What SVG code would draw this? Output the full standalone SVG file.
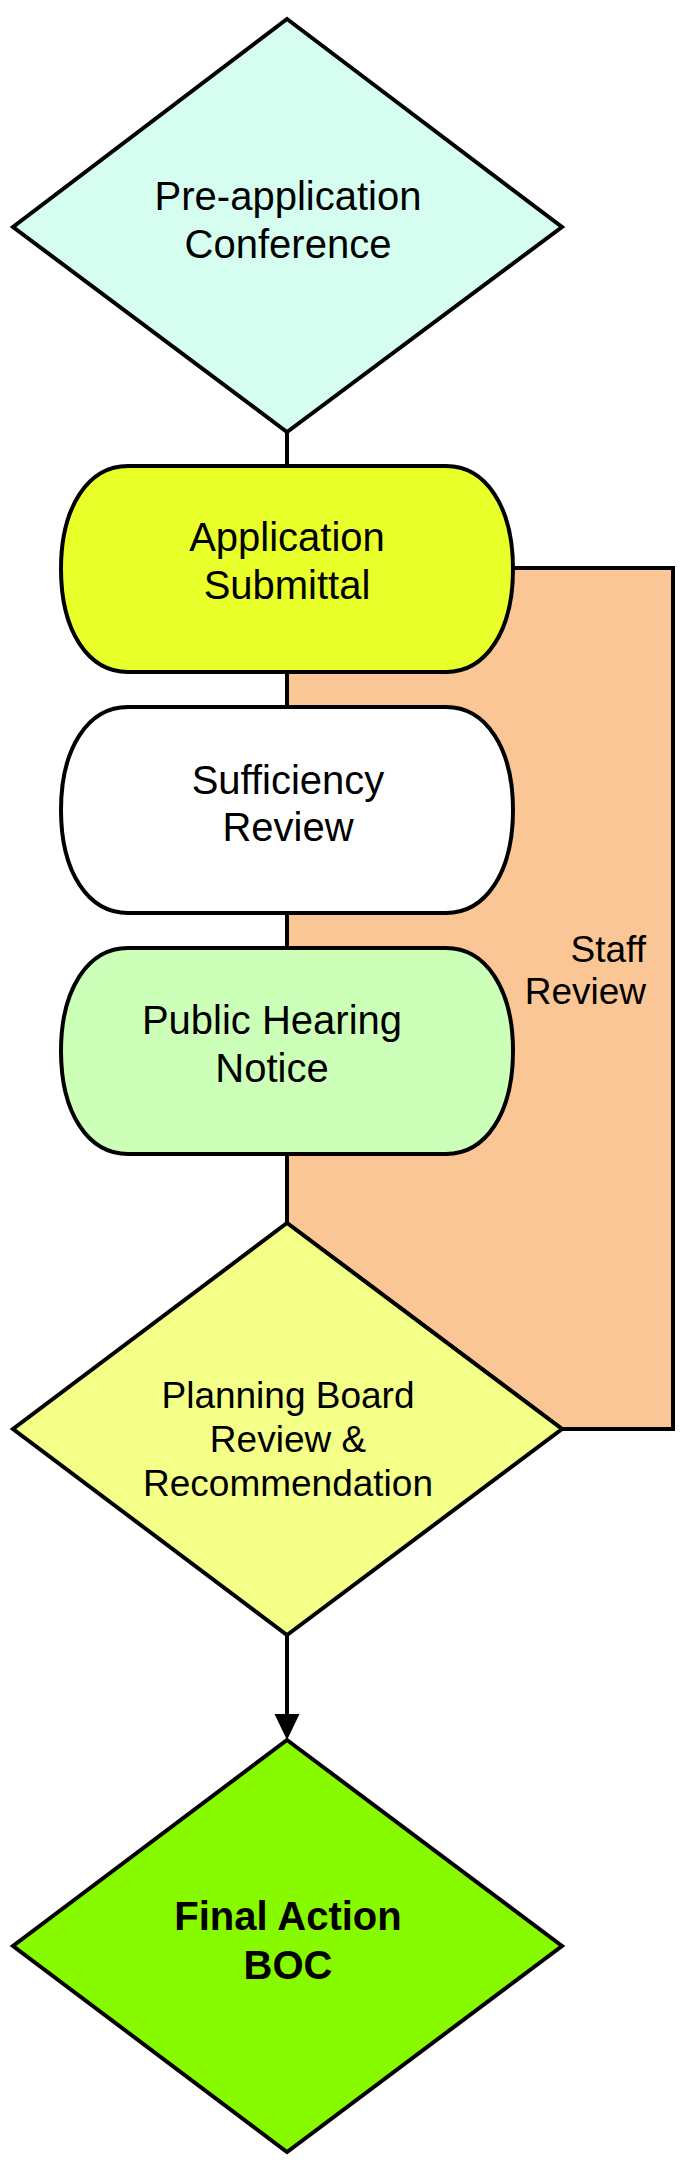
<svg xmlns="http://www.w3.org/2000/svg" width="700" height="2168" viewBox="0 0 700 2168">
<defs>
<style>
.shape{stroke:#000;stroke-width:4;stroke-linejoin:miter}
.t{font-family:"Liberation Sans",Arial,sans-serif;font-size:40px;fill:#000;text-anchor:middle}
.s{font-size:37px}
.b{font-weight:bold}
.conn{stroke:#000;stroke-width:4;fill:none}
</style>
<path id="pill" d="M128,0 H446 C486.2,0 513,41.2 513,103 C513,164.8 486.2,206 446,206 H128 C87.8,206 61,164.8 61,103 C61,41.2 87.8,0 128,0 Z"/>
<marker id="arrow" markerUnits="userSpaceOnUse" markerWidth="26" markerHeight="26" refX="25" refY="13" orient="auto" viewBox="0 0 26 26">
<path d="M0,0 L25,13 L0,26 Z" fill="#000"/>
</marker>
</defs>
<rect width="700" height="2168" fill="#fff"/>
<g id="staff-review">
<polygon class="shape" fill="#FAC696" points="287,568 673,568 673,1429 562,1429 287,1223"/>
<text class="t s" style="text-anchor:end" x="646" y="962">Staff</text>
<text class="t s" style="text-anchor:end" x="646" y="1004">Review</text>
</g>
<g id="connectors">
<line class="conn" x1="287" y1="432" x2="287" y2="1223"/>
<line class="conn" x1="287" y1="1635" x2="287" y2="1716"/>
<path d="M274.5,1714 L287,1740 L299.5,1714 Z" fill="#000"/>
</g>
<g id="pre-application">
<polygon class="shape" fill="#D5FEF0" points="287,19 562,227 287,432 13,227"/>
<text class="t" x="288" y="210">Pre-application</text>
<text class="t" x="288" y="258">Conference</text>
</g>
<g id="application-submittal">
<use href="#pill" class="shape" fill="#E8FF29" transform="translate(0,466)"/>
<text class="t" x="287" y="551">Application</text>
<text class="t" x="287" y="599">Submittal</text>
</g>
<g id="sufficiency-review">
<use href="#pill" class="shape" fill="#FFFFFF" transform="translate(0,707)"/>
<text class="t" x="288" y="794">Sufficiency</text>
<text class="t" x="288" y="841">Review</text>
</g>
<g id="public-hearing-notice">
<use href="#pill" class="shape" fill="#CCFFB8" transform="translate(0,948)"/>
<text class="t" x="272" y="1034">Public Hearing</text>
<text class="t" x="272" y="1082">Notice</text>
</g>
<g id="planning-board">
<polygon class="shape" fill="#F3FF87" points="287,1223 562,1429 287,1635 13,1429"/>
<text class="t s" x="288" y="1408">Planning Board</text>
<text class="t s" x="288" y="1452">Review &amp;</text>
<text class="t s" x="288" y="1496">Recommendation</text>
</g>
<g id="final-action">
<polygon class="shape" fill="#88FA00" points="287,1740 562,1946 287,2152 13,1946"/>
<text class="t b" x="288" y="1930">Final Action</text>
<text class="t b" x="288" y="1979">BOC</text>
</g>
</svg>
